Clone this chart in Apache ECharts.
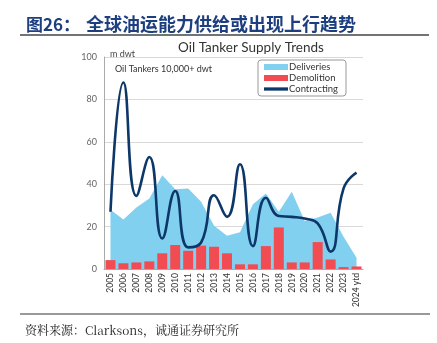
<!DOCTYPE html>
<html><head><meta charset="utf-8">
<script src="https://cdn.jsdelivr.net/npm/echarts@6/dist/echarts.min.js"></script>
<style>html,body{margin:0;padding:0;background:#fff;}#c{width:437px;height:343px;}</style>
</head><body><div id="c"></div>
<script>
const categories = ['2005','2006','2007','2008','2009','2010','2011','2012','2013','2014','2015','2016','2017','2018','2019','2020','2021','2022','2023','2024 ytd'];
const deliveries = [28, 23.4, 29, 33.2, 44.2, 37.6, 38, 31.7, 20.4, 15.7, 17.3, 30.6, 35.6, 27, 36.4, 22.7, 24.3, 26.5, 15.2, 5.3];
const demolition = [4.2, 2.7, 3.1, 3.6, 7.4, 11.3, 8.6, 11, 10.5, 7.4, 2.2, 2.2, 10.8, 19.6, 3.1, 3.1, 12.7, 4.5, 0.9, 1.2];
const contracting = [27, 88, 34.5, 52.8, 14.4, 36.8, 10.2, 12.5, 34.8, 24.6, 49.4, 10.8, 33.6, 25, 24.6, 23.8, 21.5, 8.2, 38, 45.5];
const yTicks = [0, 20, 40, 60, 80, 100];

const chart = echarts.init(document.getElementById('c'));
const f = 'Lato, "DejaVu Sans", sans-serif';
chart.setOption({
  animation: false,
  backgroundColor: '#fff',
  title: [
    {text: '图26：', left: 21, top: 11,
     textStyle: {fontFamily: '"Noto Sans CJK SC"', fontWeight: 'bold', fontSize: 17, color: '#1d3f80'}},
    {text: '全球油运能力供给或出现上行趋势', left: 81, top: 10,
     textStyle: {fontFamily: '"Noto Sans CJK SC"', fontWeight: 'bold', fontSize: 18, color: '#1d3f80'}},
    {text: 'Oil Tanker Supply Trends', left: 246, textAlign: 'center', top: 36,
     textStyle: {fontFamily: f, fontWeight: 'normal', fontSize: 13.5, color: '#333'}},
    {text: 'm dwt', left: 105, top: 45, textStyle: {fontFamily: f, fontWeight: 'normal', fontSize: 9, color: '#444'}},
    {text: 'Oil Tankers 10,000+ dwt', left: 110, top: 60, textStyle: {fontFamily: f, fontWeight: 'normal', fontSize: 9, color: '#333'}},
    {text: '资料来源：Clarksons，诚通证券研究所', left: 20, top: 319,
     textStyle: {fontFamily: '"Noto Serif CJK SC", "Noto Sans CJK SC", serif', fontWeight: 'normal', fontSize: 12, color: '#222'}}
  ],
  graphic: [
    {type: 'line', shape: {x1: 20, y1: 35, x2: 429, y2: 35}, style: {stroke: '#444', lineWidth: 1.5}},
    {type: 'line', shape: {x1: 20, y1: 314, x2: 430, y2: 314}, style: {stroke: '#777', lineWidth: 1.5}}
  ],
  legend: {
    orient: 'vertical', left: 258, top: 60, padding: [2, 8, 2, 6], itemGap: 1,
    borderColor: '#999', borderWidth: 1, borderRadius: 3,
    itemWidth: 24, itemHeight: 6,
    textStyle: {fontFamily: f, fontSize: 9.5, color: '#333', padding: [0,0,0,-4]},
    data: [
      {name: 'Deliveries', icon: 'rect'},
      {name: 'Demolition', icon: 'rect'},
      {name: 'Contracting', icon: 'path://M0,4 L22,4 L22,7 L0,7 Z'}
    ]
  },
  grid: {left: 104, right: 74, top: 57, bottom: 74},
  xAxis: {
    type: 'category', data: categories, boundaryGap: true,
    axisLine: {lineStyle: {color: '#aaa'}}, axisTick: {show: false},
    axisLabel: {rotate: 90, fontSize: 8.5, fontFamily: f, color: '#333', margin: 4, interval: 0}
  },
  yAxis: {
    type: 'value', min: 0, max: 100, interval: 20,
    axisLine: {show: true, lineStyle: {color: '#aaa'}}, axisTick: {show: false},
    splitLine: {lineStyle: {color: '#d9d9d9'}},
    axisLabel: {fontSize: 9, fontFamily: f, color: '#666', margin: 7,
      formatter: v => yTicks.includes(v) ? String(v) : ''}
  },
  series: [
    {name: 'Deliveries', type: 'line', data: deliveries, symbol: 'none',
     lineStyle: {width: 0}, itemStyle: {color: '#82d0f0'}, areaStyle: {color: '#82d0f0', opacity: 1}, z: 1},
    {name: 'Demolition', type: 'bar', data: demolition, barWidth: 10,
     itemStyle: {color: '#f24c53'}, z: 2},
    {name: 'Contracting', type: 'line', data: contracting, symbol: 'none', smooth: 0.5,
     lineStyle: {width: 2.6, color: '#0d3768'}, itemStyle: {color: '#0d3768'}, z: 3}
  ]
});
</script></body></html>
